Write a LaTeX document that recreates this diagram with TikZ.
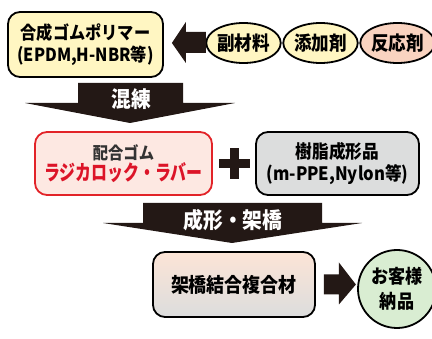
\documentclass[tikz,border=0pt]{standalone}
\usepackage{fontspec}
\usepackage{tikz}
\usetikzlibrary{shapes.geometric,calc}
\setmainfont{Noto Sans CJK JP}[FakeStretch=0.9]
\newfontfamily\condfont{Noto Sans CJK JP}[FakeStretch=0.76]
\definecolor{arrowdark}{RGB}{35,24,21}
\definecolor{cream}{RGB}{255,246,194}
\definecolor{salmon}{RGB}{249,211,192}
\definecolor{rosefill}{RGB}{253,232,226}
\definecolor{roseline}{RGB}{226,35,40}
\definecolor{rosetext}{RGB}{220,20,40}
\definecolor{greyfill}{RGB}{220,221,221}
\definecolor{peach}{RGB}{252,228,214}
\definecolor{mint}{RGB}{217,237,210}
\def\boxsep{22pt}

\begin{document}
\begin{tikzpicture}[x=1pt,y=-1pt,line width=1.8pt,font=\bfseries]
    \tikzstyle{box}=[draw=black,rounded corners=12pt,align=center,inner sep=0pt]
    \tikzstyle{raw box}=[box, fill=cream, minimum width=155pt, minimum height=65pt]
    \tikzstyle{mix box}=[box, draw=roseline, fill=rosefill, minimum width=177pt, minimum height=63pt]
    \tikzstyle{resin box}=[box, fill=greyfill, minimum width=163pt, minimum height=63pt]
    \tikzstyle{part box}=[box, top color=peach, bottom color=greyfill, middle color=peach!50!greyfill, minimum width=162pt, minimum height=65pt]
    \tikzstyle{additive}=[ellipse,draw=black,fill=cream,minimum width=71pt,minimum height=40pt,inner sep=0pt,font=\bfseries\fontsize{19.5}{19.5}\selectfont]
    \tikzstyle{fat arrow}=[fill=arrowdark]
    \tikzstyle{annot}=[text=white,font=\bfseries\fontsize{22}{22}\selectfont]

    \useasboundingbox (0,0) rectangle (432,339);

    % Draw the polymer box and the additives
    \node[raw box, font=\bfseries\fontsize{18}{\boxsep}\selectfont] (P) at (85.5,44.5)
        {合成ゴムポリマー\\(EPDM,H-NBR等)};
    \node[additive] (A-1) at (243.5,43) {副材料};
    \node[additive] (A-2) at (320.5,43) {添加剤};
    \node[additive, fill=salmon] (A-3) at (397.5,43) {反応剤};

    % Arrow from the additives into the polymer
    \fill[fat arrow] (P.east) ++(8,-1.5) -- ++(14,-21) -- ++(0,10) -- ++(20,0) -- ++(0,21)
        -- ++(-20,0) -- ++(0,10) -- cycle;

    % Draw the mixing arrow
    \fill[fat arrow] (78,83) -- (183,83) -- (183,103) -- (235,103) -- (130,123)
        -- (25,103) -- (78,103) -- cycle;
    \node[annot] (mix) at (131,99) {混練};

    % Draw the compound and the resin part
    \node[mix box] (C) at (123.5,163.5)
        {{\color{black!80}\fontsize{17}{17}\selectfont 配合ゴム}\\[0pt]
         {\color{rosetext}\condfont\bfseries\fontsize{21}{21}\selectfont ラジカロック・ラバー}};
    \node[resin box, font=\bfseries\fontsize{18.5}{\boxsep}\selectfont] (R) at (337.5,163.5)
        {樹脂成形品\\(m-PPE,Nylon等)};
    \coordinate (plus) at ($(C.east)!0.5!(R.west)$);
    \fill[fat arrow] (plus) ++(-15.5,-4.5) rectangle ++(31,9);
    \fill[fat arrow] (plus) ++(-4.5,-15.5) rectangle ++(9,31);

    % Draw the moulding arrow
    \fill[fat arrow] (143,203) -- (322,203) -- (322,223) -- (362,223) -- (232,243)
        -- (103,223) -- (143,223) -- cycle;
    \node[annot] (mold) at (233,220) {成形・架橋};

    % Draw the composite part and the delivery
    \node[part box, font=\bfseries\fontsize{20}{20}\selectfont] (J) at (234,284.5) {架橋結合複合材};
    \node[circle, draw=black, fill=mint, minimum size=78pt, inner sep=0pt, align=center,
        font=\bfseries\fontsize{19}{25}\selectfont] (D) at (397,289) {お客様\\納品};
    \fill[fat arrow] (J.east) ++(8,-10) -- ++(15,0) -- ++(0,-12) -- ++(17,22)
        -- ++(-17,20) -- ++(0,-10) -- ++(-15,0) -- cycle;
\end{tikzpicture}
\end{document}
